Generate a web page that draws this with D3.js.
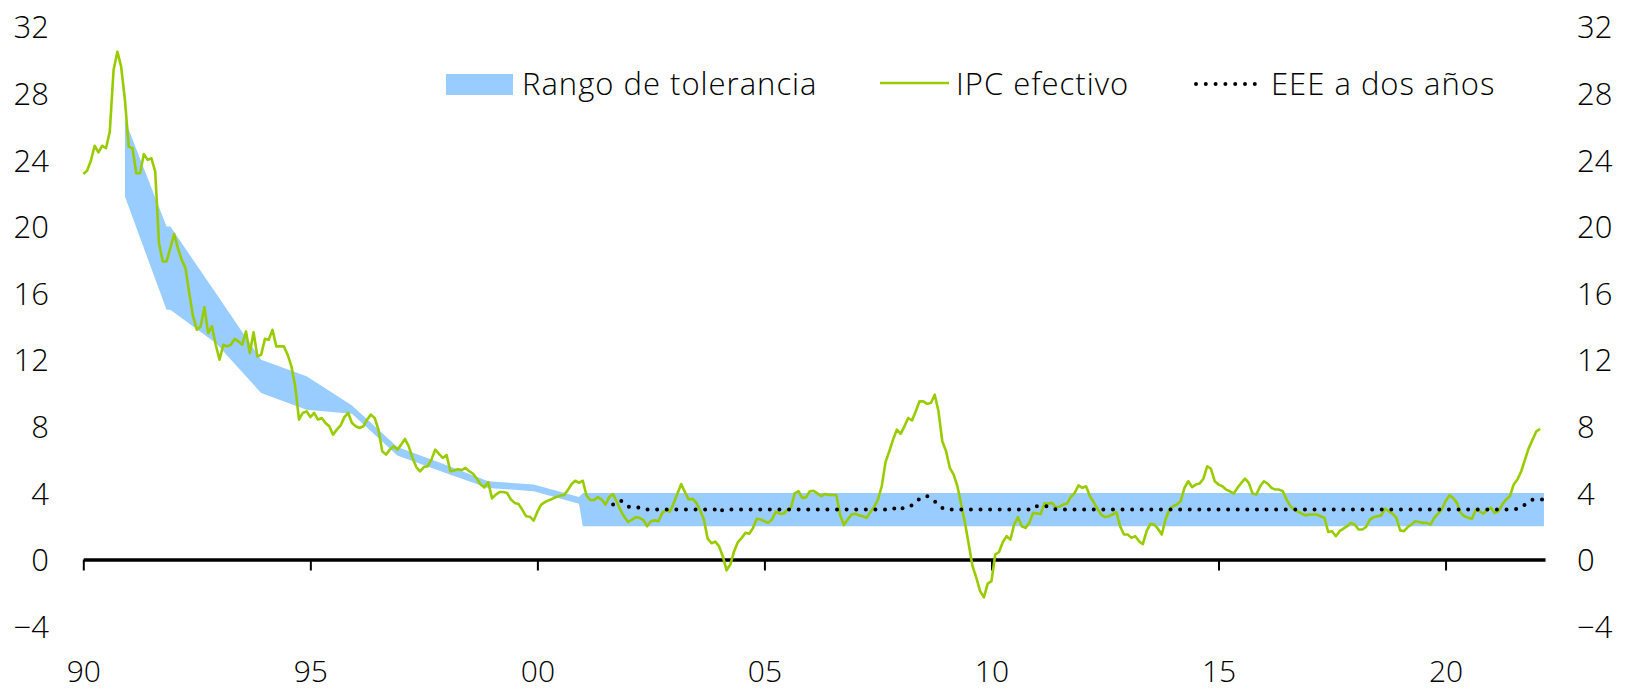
<!DOCTYPE html>
<html>
<head>
<meta charset="utf-8">
<script src="https://cdn.jsdelivr.net/npm/d3@7"></script>
<style>
  html, body { margin: 0; padding: 0; background: #fff; }
  svg { display: block; }
  text { font-family: "Open Sans", "Noto Sans", sans-serif; font-weight: 300; fill: #000; }
</style>
</head>
<body>
<svg id="chart" width="1627" height="691"></svg>
<script>
// ---------------- DATA ----------------
// IPC efectivo: annual CPI inflation (%), monthly, starting January 1990
const ipcStart = "1990-01";
const ipcValues = [
  // 1990
  23.15, 23.35, 23.95, 24.85, 24.45, 24.85, 24.7, 25.7, 29.4, 30.5, 29.6, 27.6,
  // 1991
  24.8, 24.7, 23.2, 23.2, 24.35, 24.0, 24.1, 23.3, 19.0, 17.9, 17.9, 18.7,
  // 1992
  19.55, 18.7, 18.0, 17.5, 16.0, 14.6, 13.8, 14.0, 15.15, 13.6, 14.0, 12.9,
  // 1993
  12.0, 12.9, 12.8, 12.9, 13.25, 13.1, 12.9, 13.7, 12.4, 13.65, 12.2, 12.3,
  // 1994
  13.25, 13.2, 13.8, 12.8, 12.8, 12.8, 12.3, 11.6, 10.4, 8.4, 8.8, 8.9,
  // 1995
  8.55, 8.8, 8.4, 8.5, 8.2, 8.0, 7.5, 7.8, 8.05, 8.55, 8.8, 8.2,
  // 1996
  8.0, 7.9, 8.0, 8.4, 8.7, 8.5, 7.8, 6.5, 6.3, 6.6, 6.8, 6.6,
  // 1997
  6.9, 7.24, 6.8, 6.1, 5.55, 5.3, 5.55, 5.6, 6.0, 6.6, 6.35, 6.1,
  // 1998
  6.27, 5.3, 5.35, 5.42, 5.37, 5.5, 5.3, 5.15, 4.85, 4.5, 4.33, 4.65,
  // 1999
  3.67, 3.9, 4.05, 4.05, 4.0, 3.6, 3.4, 3.33, 3.0, 2.6, 2.57, 2.33,
  // 2000
  2.87, 3.3, 3.45, 3.55, 3.65, 3.75, 3.83, 3.87, 4.15, 4.52, 4.73, 4.6,
  // 2001
  4.73, 3.83, 3.57, 3.57, 3.75, 3.6, 3.3, 3.75, 3.93, 3.45, 2.95, 2.55,
  // 2002
  2.25, 2.4, 2.55, 2.5, 2.37, 2.0, 2.3, 2.35, 2.3, 2.8, 2.97, 2.87,
  // 2003
  3.37, 3.95, 4.53, 4.05, 3.6, 3.65, 3.4, 2.95, 2.4, 1.25, 0.98, 1.07,
  // 2004
  0.8, 0.2, -0.65, -0.3, 0.5, 1.05, 1.3, 1.6, 1.55, 1.9, 2.45, 2.4,
  // 2005
  2.3, 2.2, 2.4, 2.87, 2.75, 2.75, 2.97, 3.1, 3.97, 4.1, 3.7, 3.73,
  // 2006
  4.1, 4.12, 3.97, 3.8, 3.93, 3.87, 3.87, 3.87, 2.67, 2.07, 2.4, 2.7,
  // 2007
  2.75, 2.65, 2.6, 2.5, 2.85, 3.15, 3.6, 4.4, 5.85, 6.5, 7.2, 7.8,
  // 2008
  7.55, 8.0, 8.5, 8.35, 8.9, 9.5, 9.5, 9.35, 9.4, 9.9, 8.9, 7.1,
  // 2009
  6.5, 5.5, 5.1, 4.4, 3.3, 2.2, 0.9, -0.4, -1.1, -1.9, -2.27, -1.45,
  // 2010
  -1.3, 0.3, 0.45, 1.05, 1.4, 1.2, 2.1, 2.55, 2.0, 1.9, 2.2, 2.8,
  // 2011
  2.77, 2.73, 3.37, 3.35, 3.4, 3.15, 3.17, 3.3, 3.37, 3.77, 4.0, 4.45,
  // 2012
  4.3, 4.4, 3.8, 3.45, 3.05, 2.7, 2.55, 2.6, 2.7, 2.85, 2.0, 1.5,
  // 2013
  1.5, 1.3, 1.4, 1.1, 0.92, 1.7, 2.14, 2.1, 1.85, 1.5, 2.4, 3.0,
  // 2014
  3.2, 3.3, 3.5, 4.3, 4.7, 4.35, 4.5, 4.56, 4.85, 5.6, 5.45, 4.7,
  // 2015
  4.5, 4.4, 4.2, 4.1, 3.96, 4.3, 4.6, 4.85, 4.6, 3.96, 3.9, 4.4,
  // 2016
  4.7, 4.55, 4.3, 4.2, 4.2, 4.1, 3.6, 3.2, 3.0, 2.87, 2.75, 2.65,
  // 2017
  2.7, 2.7, 2.7, 2.6, 2.5, 1.65, 1.7, 1.4, 1.7, 1.85, 2.0, 2.2,
  // 2018
  2.1, 1.8, 1.8, 1.95, 2.4, 2.55, 2.6, 2.65, 3.05, 2.9, 2.75, 2.5,
  // 2019
  1.75, 1.7, 1.95, 2.1, 2.3, 2.25, 2.2, 2.2, 2.1, 2.5, 2.75, 3.0,
  // 2020
  3.5, 3.85, 3.7, 3.4, 2.8, 2.6, 2.5, 2.45, 3.0, 2.9, 2.75, 3.0,
  // 2021
  3.1, 2.8, 2.9, 3.3, 3.6, 3.8, 4.5, 4.8, 5.3, 6.0, 6.7, 7.2,
  // 2022
  7.7, 7.85
];

// Rango de tolerancia (lower / upper bound, %)
const bandDates = ["1990-12","1991-11","1991-12","1992-12","1993-12","1994-12","1995-12",
                   "1996-12","1997-12","1998-12","1999-12","2000-12","2001-01","2022-03"];
const bandLower = [21.8, 15, 15, 13, 10, 9, 8.75, 6.25, 5.25, 4.3, 4.1, 3.35, 2, 2];
const bandUpper = [26.4, 20, 20, 16, 12, 11, 9.25, 6.75, 5.75, 4.7, 4.5, 3.75, 4, 4];

// EEE a dos años (2-year-ahead expectations, %)
const eeeDates = ["2001-09","2001-10","2001-11","2001-12","2002-01","2002-03","2002-04","2002-05",
                  "2003-12","2004-01","2004-02","2007-11","2007-12","2008-01","2008-02","2008-03",
                  "2008-04","2008-05","2008-06","2008-07","2008-08","2008-09","2008-10","2008-11",
                  "2008-12","2009-01","2010-12","2011-01","2011-04","2011-05","2011-06","2021-07",
                  "2021-08","2021-09","2021-10","2021-11","2021-12","2022-03"];
const eeeValues = [3.3, 3.45, 3.55, 3.35, 3.17, 3.17, 3.1, 3.0,
                   3.0, 2.8, 3.0, 3.0, 3.2, 3.1, 3.05, 3.15,
                   3.25, 3.45, 3.65, 3.8, 3.8, 3.7, 3.5, 3.3,
                   3.1, 3.0, 3.0, 3.2, 3.2, 3.1, 3.0, 3.0,
                   3.05, 3.1, 3.3, 3.45, 3.6, 3.6];

const xTickYears = [1990, 1995, 2000, 2005, 2010, 2015, 2020];
const xTickLabels = ["90", "95", "00", "05", "10", "15", "20"];
const yTicks = [-4, 0, 4, 8, 12, 16, 20, 24, 28, 32];

const legendLabels = ["Rango de tolerancia", "IPC efectivo", "EEE a dos años"];

// ---------------- HELPERS ----------------
const toYear = s => { const [y, m] = s.split("-").map(Number); return y + (m - 1) / 12; };
const ipc0 = toYear(ipcStart);
const ipcData = ipcValues.map((v, i) => ({ t: ipc0 + i / 12, v }));
const bandData = bandDates.map((d, i) => ({ t: toYear(d), lo: bandLower[i], hi: bandUpper[i] }));
const eeeData = eeeDates.map((d, i) => ({ t: toYear(d), v: eeeValues[i] }));

// ---------------- CHART ----------------
const svg = d3.select("#chart");
const x = d3.scaleLinear().domain([1990, 2022.19]).range([83.3, 1545]);
const y = d3.scaleLinear().domain([-4, 32]).range([626.1, 26.7]);

const BLUE = "#99CCFF", GREEN = "#99CC00";

// band
svg.append("path")
  .datum(bandData)
  .attr("fill", BLUE)
  .attr("d", d3.area().x(d => x(d.t)).y0(d => y(d.lo)).y1(d => y(d.hi)));

// x axis
const xAxis = svg.append("g")
  .attr("transform", `translate(0,${y(0)})`)
  .call(d3.axisBottom(x).tickValues(xTickYears)
        .tickFormat((d, i) => xTickLabels[i]).tickSize(11).tickSizeOuter(0));
xAxis.select(".domain").attr("stroke", "#000").attr("stroke-width", 3.5);
xAxis.selectAll(".tick line").attr("stroke", "#000").attr("stroke-width", 2);
xAxis.selectAll(".tick text")
  .attr("y", 671 - y(0)).attr("dy", "0.36em")
  .style("font-size", "30px");

// IPC line
svg.append("path")
  .datum(ipcData)
  .attr("fill", "none").attr("stroke", GREEN).attr("stroke-width", 2.6)
  .attr("stroke-linejoin", "round")
  .attr("d", d3.line().x(d => x(d.t)).y(d => y(d.v)));

// EEE dotted line
svg.append("path")
  .datum(eeeData)
  .attr("fill", "none").attr("stroke", "#000").attr("stroke-width", 4)
  .attr("stroke-linecap", "round").attr("stroke-dasharray", "0 9.6")
  .attr("d", d3.line().x(d => x(d.t)).y(d => y(d.v)));

// y axes (labels only)
const yl = svg.append("g").attr("transform", "translate(49,0)")
  .call(d3.axisLeft(y).tickValues(yTicks).tickSize(0).tickPadding(0));
const yr = svg.append("g").attr("transform", "translate(1577,0)")
  .call(d3.axisRight(y).tickValues(yTicks).tickSize(0).tickPadding(0));
[yl, yr].forEach(g => {
  g.select(".domain").remove();
  g.selectAll(".tick text").attr("dy", "0.36em").style("font-size", "31px");
});

// legend
const lg = svg.append("g");
const ly = 84;
const legendFont = g => g.attr("dy", "0.36em").style("font-size", "31px").style("letter-spacing", "1px");
lg.append("rect").attr("x", 446).attr("y", 74).attr("width", 67).attr("height", 21).attr("fill", BLUE);
lg.append("text").attr("x", 522).attr("y", ly).call(legendFont).text(legendLabels[0]);
lg.append("line").attr("x1", 880).attr("x2", 949).attr("y1", ly - 1).attr("y2", ly - 1)
  .attr("stroke", GREEN).attr("stroke-width", 2.6);
lg.append("text").attr("x", 956).attr("y", ly).call(legendFont).text(legendLabels[1]);
lg.append("line").attr("x1", 1196).attr("x2", 1256).attr("y1", ly).attr("y2", ly)
  .attr("stroke", "#000").attr("stroke-width", 4)
  .attr("stroke-linecap", "round").attr("stroke-dasharray", "0 9.8");
lg.append("text").attr("x", 1271).attr("y", ly).call(legendFont).text(legendLabels[2]);
</script>
</body>
</html>
